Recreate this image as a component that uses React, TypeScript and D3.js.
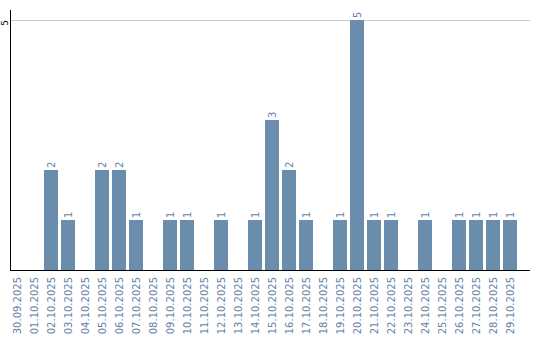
import React from "react";
import * as d3 from "d3";

const categories = [
  "30.09.2025","01.10.2025","02.10.2025","03.10.2025","04.10.2025","05.10.2025",
  "06.10.2025","07.10.2025","08.10.2025","09.10.2025","10.10.2025","11.10.2025",
  "12.10.2025","13.10.2025","14.10.2025","15.10.2025","16.10.2025","17.10.2025",
  "18.10.2025","19.10.2025","20.10.2025","21.10.2025","22.10.2025","23.10.2025",
  "24.10.2025","25.10.2025","26.10.2025","27.10.2025","28.10.2025","29.10.2025",
];
const values = [0,0,2,1,0,2,2,1,0,1,1,0,1,0,1,3,2,1,0,1,5,1,1,0,1,0,1,1,1,1];
const yTicks = [5];

const W = 540, H = 340;
const left = 10, right = 530, top = 10, base = 270;
const barColor = "#6a8cad";
const textColor = "#6283a8";

export default function App() {
  const x = d3.scaleBand<string>().domain(categories).range([left, left + categories.length * 17]).padding(0);
  const y = d3.scaleLinear().domain([0, 5]).range([base, 20]);
  const bw = x.bandwidth() - 3;
  return (
    <svg width={W} height={H} style={{ position: "absolute", left: 0, top: 0, background: "#fff" }}
      fontFamily="DejaVu Sans" fontSize={10}>
      {yTicks.map((t) => (
        <g key={t}>
          <line x1={left} x2={right} y1={y(t) + 0.5} y2={y(t) + 0.5} stroke="#cccccc" />
          <text transform={`translate(${left - 2},${y(t) + 3}) rotate(-90)`} textAnchor="middle" fill="#000" fontSize={9}>{t}</text>
        </g>
      ))}
      {categories.map((c, i) => {
        const v = values[i];
        const bx = x(c)!;
        const cx = bx + bw / 2;
        return (
          <g key={c}>
            {v > 0 && <rect x={bx} y={y(v)} width={bw} height={base - y(v)} fill={barColor} />}
            {v > 0 && (
              <text transform={`translate(${cx},${y(v) - 2}) rotate(-90)`} dy="0.35em" textAnchor="start" fill={textColor}>{v}</text>
            )}
            <text transform={`translate(${cx},${base + 7}) rotate(-90)`} dy="0.35em" textAnchor="end" fill={textColor}>{c}</text>
          </g>
        );
      })}
      <line x1={left + 0.5} x2={left + 0.5} y1={top} y2={base} stroke="#000" />
      <line x1={left} x2={right} y1={base + 0.5} y2={base + 0.5} stroke="#000" />
    </svg>
  );
}
